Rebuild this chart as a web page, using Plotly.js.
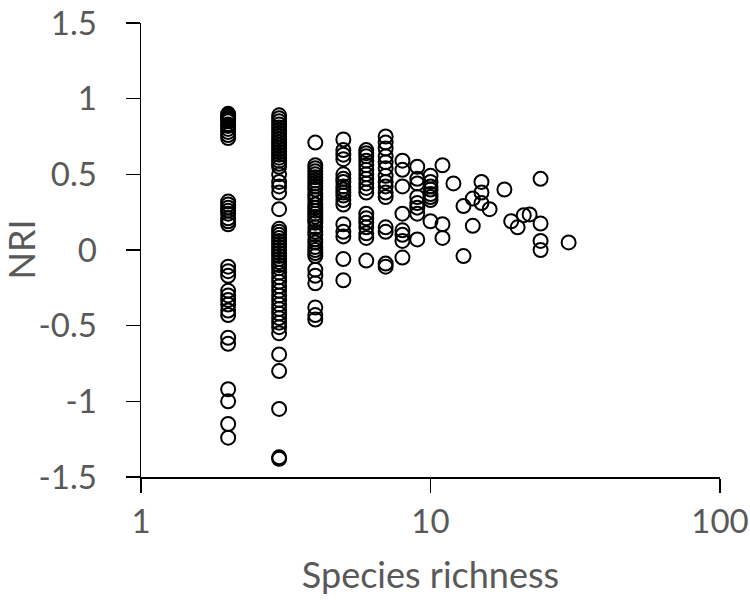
<!DOCTYPE html>
<html>
<head>
<meta charset="utf-8">
<script src="https://cdn.plot.ly/plotly-3.0.1.min.js"></script>
<style>
  html, body { margin: 0; padding: 0; background: #fff; }
  #container { width: 750px; height: 605px; }
</style>
</head>
<body>
<div id="container"></div>
<script>
// NRI values, one list per species richness level
var nri2 = [0.90, 0.89, 0.88, 0.87, 0.86, 0.85, 0.83, 0.82, 0.80, 0.78, 0.76, 0.74,
  0.32, 0.30, 0.28, 0.26, 0.24, 0.21, 0.19, 0.17,
  -0.11, -0.14, -0.17, -0.27, -0.30, -0.33, -0.36, -0.40, -0.43,
  -0.58, -0.62, -0.92, -1.00, -1.15, -1.24];
var nri3 = [0.89, 0.87, 0.85, 0.83, 0.81, 0.79, 0.77, 0.75, 0.73, 0.71, 0.69, 0.67, 0.65,
  0.63, 0.61, 0.59, 0.57, 0.55, 0.50, 0.45, 0.42, 0.38, 0.27,
  0.14, 0.12, 0.10, 0.08, 0.06, 0.04, 0.02, 0.00, -0.02, -0.04, -0.06, -0.08, -0.10,
  -0.12, -0.15, -0.18, -0.21, -0.24, -0.27, -0.30, -0.33, -0.36, -0.39, -0.42, -0.45,
  -0.48, -0.51, -0.55, -0.69, -0.80, -1.05, -1.37, -1.38];
var nri4 = [0.71, 0.56, 0.54, 0.52, 0.50, 0.48, 0.46, 0.44, 0.42, 0.40, 0.37, 0.35, 0.33,
  0.30, 0.28, 0.26, 0.24, 0.22, 0.20, 0.18, 0.15, 0.12, 0.10, 0.07, 0.05, 0.02, 0.00,
  -0.02, -0.04, -0.13, -0.17, -0.22, -0.38, -0.43, -0.46];
var nri5 = [0.73, 0.66, 0.63, 0.60, 0.50, 0.47, 0.45, 0.42, 0.40, 0.38, 0.36, 0.33, 0.30,
  0.17, 0.12, 0.09, -0.06, -0.20];
var nri6 = [0.66, 0.64, 0.62, 0.59, 0.56, 0.53, 0.50, 0.47, 0.44, 0.41, 0.38,
  0.24, 0.21, 0.18, 0.15, 0.11, 0.08, -0.07];
var nri7 = [0.75, 0.71, 0.67, 0.62, 0.58, 0.54, 0.49, 0.45, 0.42, 0.38, 0.35,
  0.15, 0.12, -0.09, -0.11];
var nri8 = [0.59, 0.53, 0.42, 0.24, 0.13, 0.10, 0.06, -0.05];
var nri9 = [0.55, 0.47, 0.44, 0.35, 0.31, 0.28, 0.24, 0.07];
var nri10 = [0.49, 0.45, 0.42, 0.40, 0.37, 0.35, 0.33, 0.19];

// the sparse points at higher richness
var tailRichness = [11, 11, 11, 12, 13, 13, 14, 14, 15, 15, 15, 16, 18, 19, 20, 21, 22, 24, 24, 24, 24, 30];
var tailNri = [0.56, 0.17, 0.08, 0.44, 0.29, -0.04, 0.34, 0.16, 0.45, 0.38, 0.31, 0.27, 0.40,
  0.19, 0.15, 0.23, 0.235, 0.47, 0.175, 0.06, 0.00, 0.05];

var yTicks = [-1.5, -1, -0.5, 0, 0.5, 1, 1.5];
var yTickText = ["-1.5", "-1", "-0.5", "0", "0.5", "1", "1.5"];
var xTicks = [1, 10, 100];
var xTickText = ["1", "10", "100"];

// flatten the columns into x / y lists
var groups = [[2, nri2], [3, nri3], [4, nri4], [5, nri5], [6, nri6], [7, nri7], [8, nri8], [9, nri9], [10, nri10]];
var xs = [];
var ys = [];
groups.forEach(function(g) {
  g[1].forEach(function(v) { xs.push(g[0]); ys.push(v); });
});
tailRichness.forEach(function(r, i) { xs.push(r); ys.push(tailNri[i]); });

var trace = {
  x: xs,
  y: ys,
  mode: "markers",
  type: "scatter",
  cliponaxis: false,
  marker: {
    symbol: "circle",
    size: 14,
    color: "rgba(0,0,0,0)",
    line: { color: "#000", width: 2 }
  },
  hoverinfo: "x+y"
};

var fontFam = "Lato, 'Open Sans', sans-serif";
var tickFont = { family: fontFam, size: 33, color: "#595959" };
var titleFont = { family: fontFam, size: 36, color: "#595959" };

var layout = {
  width: 750,
  height: 605,
  margin: { l: 141, r: 30, t: 23, b: 128 },
  paper_bgcolor: "#fff",
  plot_bgcolor: "#fff",
  showlegend: false,
  xaxis: {
    type: "log",
    range: [0, 2],
    tickvals: xTicks,
    ticktext: xTickText,
    ticks: "outside",
    ticklen: 14,
    tickwidth: 1.5,
    tickcolor: "#000",
    ticklabelstandoff: 1,
    ticklabeloverflow: "allow",
    showline: true,
    linecolor: "#000",
    linewidth: 1.5,
    showgrid: false,
    zeroline: false,
    tickfont: tickFont,
    title: { text: "Species richness", font: titleFont, standoff: 23 }
  },
  yaxis: {
    range: [-1.5, 1.5],
    tickvals: yTicks,
    ticktext: yTickText,
    ticks: "outside",
    ticklen: 14,
    tickwidth: 1.5,
    tickcolor: "#000",
    ticklabelstandoff: 22,
    ticklabeloverflow: "allow",
    showline: true,
    linecolor: "#000",
    linewidth: 1.5,
    showgrid: false,
    zeroline: false,
    tickfont: tickFont
  },
  // y title placed by hand, close to the left edge like the original
  annotations: [{
    text: "NRI",
    textangle: -90,
    xref: "paper",
    yref: "paper",
    x: -0.208,
    y: 0.5,
    xanchor: "center",
    yanchor: "middle",
    showarrow: false,
    font: titleFont
  }]
};

Plotly.newPlot(document.getElementById("container"), [trace], layout, { displayModeBar: false, staticPlot: true });
</script>
</body>
</html>
